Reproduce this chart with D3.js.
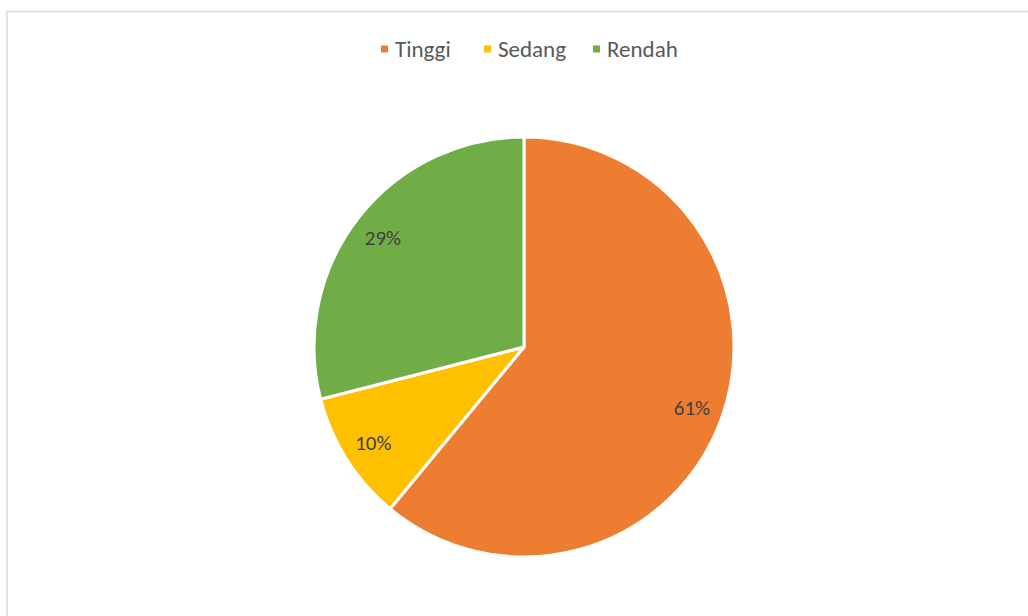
<!DOCTYPE html>
<html>
<head>
<meta charset="utf-8">
<script src="https://cdn.jsdelivr.net/npm/d3@7"></script>
<style>
  body { margin: 0; background: #fff; }
  svg { display: block; font-family: Calibri, Carlito, Lato, sans-serif; }
</style>
</head>
<body>
<svg id="chart"></svg>
<script>
const categories = ['Tinggi', 'Sedang', 'Rendah'];
const values = [61, 10, 29];
const colors = ['#ED7D31', '#FFC000', '#70AD47'];

const width = 1028;
const height = 616;

const svg = d3.select('#chart')
  .attr('width', width)
  .attr('height', height);

// chart frame
svg.append('rect')
  .attr('x', 7)
  .attr('y', 11.5)
  .attr('width', width + 10)
  .attr('height', height + 10)
  .attr('fill', '#fff')
  .attr('stroke', '#d9d9d9')
  .attr('stroke-width', 1.5);

const cx = 524, cy = 347, radius = 210;

const pie = d3.pie()
  .sort(null)
  .value(d => d);

const arcs = pie(values);

const arc = d3.arc()
  .innerRadius(0)
  .outerRadius(radius);

const labelArc = d3.arc()
  .innerRadius(radius * 0.85)
  .outerRadius(radius * 0.85);

const color = d3.scaleOrdinal()
  .domain(categories)
  .range(colors);

const g = svg.append('g')
  .attr('transform', 'translate(' + cx + ',' + cy + ')');

g.selectAll('.slice')
  .data(arcs)
  .enter().append('path')
    .attr('class', 'slice')
    .attr('d', arc)
    .attr('fill', (d, i) => color(categories[i]))
    .attr('stroke', '#fff')
    .attr('stroke-width', 3)
    .attr('stroke-linejoin', 'round');

const total = d3.sum(values);

g.selectAll('.label')
  .data(arcs)
  .enter().append('text')
    .attr('class', 'label')
    .attr('transform', d => 'translate(' + labelArc.centroid(d) + ')')
    .attr('dy', '0.35em')
    .attr('text-anchor', 'middle')
    .attr('fill', '#404040')
    .style('font-size', '21px')
    .text(d => Math.round(d.data / total * 100) + '%');

// legend
const legendX = [381, 484, 593];
const legend = svg.append('g')
  .attr('transform', 'translate(0,49)');

const item = legend.selectAll('.item')
  .data(categories)
  .enter().append('g')
    .attr('class', 'item')
    .attr('transform', (d, i) => 'translate(' + legendX[i] + ',0)');

item.append('rect')
  .attr('x', 0)
  .attr('y', -3.5)
  .attr('width', 7)
  .attr('height', 7)
  .attr('fill', d => color(d));

item.append('text')
  .attr('x', 14)
  .attr('dy', '0.35em')
  .attr('fill', '#595959')
  .style('font-size', '23px')
  .text(d => d);
</script>
</body>
</html>
